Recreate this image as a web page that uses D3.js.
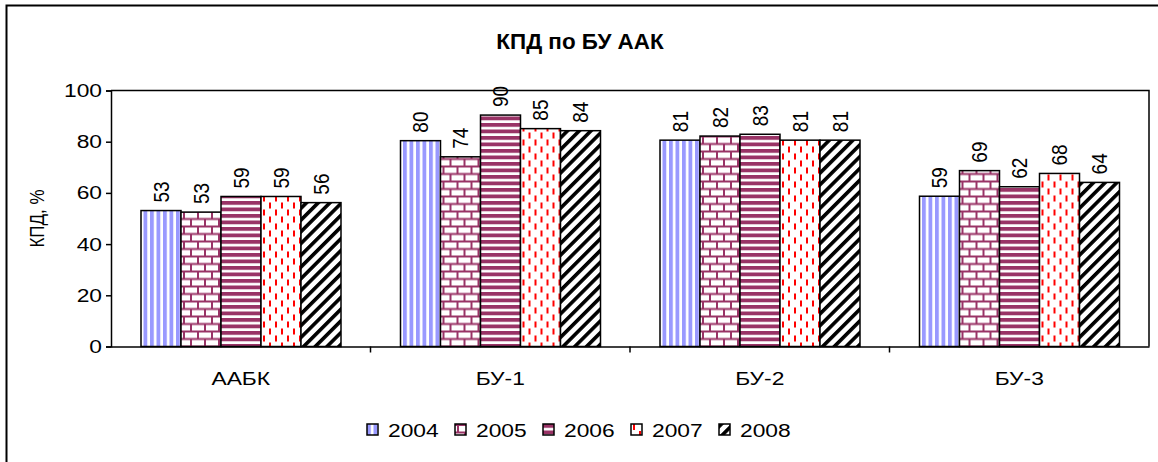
<!DOCTYPE html>
<html>
<head>
<meta charset="utf-8">
<script src="https://cdn.jsdelivr.net/npm/d3@7"></script>
<style>
  body { margin: 0; background: #fff; }
  text { font-family: Arial, "Liberation Sans", sans-serif; fill: #000; }
</style>
</head>
<body>
<div id="chart"></div>
<script>
// data
var categories = ["ААБК", "БУ-1", "БУ-2", "БУ-3"];
var years = ["2004", "2005", "2006", "2007", "2008"];
var v2004 = [53.1, 80.4, 80.6, 58.7];
var v2005 = [52.5, 74.1, 82.2, 68.7];
var v2006 = [58.6, 90.4, 82.9, 62.4];
var v2007 = [58.6, 85.1, 80.6, 67.6];
var v2008 = [56.2, 84.3, 80.6, 64.1];
var yTicks = [0, 20, 40, 60, 80, 100];

var series = [v2004, v2005, v2006, v2007, v2008];

var svgWidth = 1158;
var svgHeight = 462;
var margin = { top: 90.5, left: 111, right: 9, bottom: 115.5 };
var width = svgWidth - margin.left - margin.right;
var height = svgHeight - margin.top - margin.bottom;

// the original text looks a little wider than plain Arial
var stretch = 1.2;

var svg = d3.select("#chart").append("svg")
    .attr("width", svgWidth)
    .attr("height", svgHeight);

// patterns for fills
var defs = svg.append("defs");

var p = defs.append("pattern").attr("id", "p2004")
    .attr("patternUnits", "userSpaceOnUse").attr("width", 6.5).attr("height", 6);
p.append("rect").attr("width", 6.5).attr("height", 6).attr("fill", "#fff");
p.append("rect").attr("x", 0).attr("width", 3.8).attr("height", 6).attr("fill", "#9999ff");

p = defs.append("pattern").attr("id", "p2005")
    .attr("patternUnits", "userSpaceOnUse").attr("width", 14).attr("height", 15);
p.append("rect").attr("width", 14).attr("height", 15).attr("fill", "#fff");
p.append("path")
    .attr("d", "M0,1 H14 M0,8.5 H14 M3,1 V8.5 M10,8.5 V15")
    .attr("stroke", "#993366").attr("stroke-width", 2).attr("fill", "none");

p = defs.append("pattern").attr("id", "p2006")
    .attr("patternUnits", "userSpaceOnUse").attr("width", 6).attr("height", 6.5);
p.append("rect").attr("width", 6).attr("height", 6.5).attr("fill", "#fff");
p.append("rect").attr("y", 0).attr("width", 6).attr("height", 3.8).attr("fill", "#993366");

p = defs.append("pattern").attr("id", "p2007")
    .attr("patternUnits", "userSpaceOnUse").attr("width", 12).attr("height", 14);
p.append("rect").attr("width", 12).attr("height", 14).attr("fill", "#fff");
p.append("path")
    .attr("d", "M3,0 V6 M9,7 V13")
    .attr("stroke", "#ff0000").attr("stroke-width", 2).attr("fill", "none");

p = defs.append("pattern").attr("id", "p2008")
    .attr("patternUnits", "userSpaceOnUse").attr("width", 8.3).attr("height", 8.3)
    .attr("patternTransform", "rotate(45)");
p.append("rect").attr("width", 8.3).attr("height", 8.3).attr("fill", "#fff");
p.append("rect").attr("width", 3.6).attr("height", 8.3).attr("fill", "#000");

// outer chart frame
svg.append("rect")
    .attr("x", 6.5).attr("y", 5.5)
    .attr("width", 1170).attr("height", 480)
    .attr("fill", "none").attr("stroke", "#000").attr("stroke-width", 2);

// title
svg.append("text")
    .attr("transform", `translate(580, 49) scale(${stretch * 0.85}, 1)`)
    .attr("text-anchor", "middle")
    .style("font-size", "22px").style("font-weight", "bold")
    .text("КПД по БУ ААК");

var chartGroup = svg.append("g")
    .attr("transform", `translate(${margin.left}, ${margin.top})`);

// scales
var x0 = d3.scaleBand().domain(categories).range([0, width]);
var x1 = d3.scaleBand().domain(years).range([30, 230]);
var y = d3.scaleLinear().domain([0, 100]).range([height, 0]);

// plot area border (top and right)
chartGroup.append("path")
    .attr("d", `M0,0 H${width} V${height}`)
    .attr("fill", "none").attr("stroke", "#000").attr("stroke-width", 1.5);

// bars
var groups = chartGroup.selectAll(".cat")
    .data(categories)
    .enter()
    .append("g")
    .attr("transform", d => `translate(${x0(d)}, 0)`);

groups.selectAll("rect")
    .data((c, i) => years.map((yr, j) => ({ year: yr, value: series[j][i] })))
    .enter()
    .append("rect")
    .attr("x", d => x1(d.year))
    .attr("y", d => y(d.value))
    .attr("width", x1.bandwidth())
    .attr("height", d => height - y(d.value))
    .attr("fill", d => `url(#p${d.year})`)
    .attr("stroke", "#000")
    .attr("stroke-width", 1.5);

// value labels, rotated
groups.selectAll(".lbl")
    .data((c, i) => years.map((yr, j) => ({ year: yr, value: series[j][i] })))
    .enter()
    .append("text")
    .attr("transform", d => `translate(${x1(d.year) + x1.bandwidth() / 2}, ${y(d.value) - 8}) scale(${stretch}, 1) rotate(-90)`)
    .attr("dy", "0.35em")
    .style("font-size", "19px")
    .text(d => d3.format(".0f")(d.value));

// y axis
var leftAxis = d3.axisLeft(y).tickValues(yTicks).tickSize(5).tickPadding(4);
var yAxis = chartGroup.append("g").call(leftAxis);
yAxis.select(".domain").attr("stroke-width", 1.5);
yAxis.selectAll("line").attr("stroke-width", 1.5);
yAxis.selectAll("text")
    .attr("x", 0)
    .attr("transform", `translate(-9, 0) scale(${stretch}, 1)`)
    .style("font-size", "19px").attr("font-family", null);

// x axis
var bottomAxis = d3.axisBottom(x0).tickSize(0).tickPadding(25);
var xAxis = chartGroup.append("g")
    .attr("transform", `translate(0, ${height})`)
    .call(bottomAxis);
xAxis.select(".domain").attr("stroke-width", 1.5);
xAxis.selectAll("text")
    .attr("transform", `scale(${stretch}, 1)`)
    .style("font-size", "19px").attr("font-family", null);
xAxis.selectAll(".sep")
    .data(categories.slice(1))
    .enter()
    .append("line")
    .attr("x1", d => x0(d)).attr("x2", d => x0(d))
    .attr("y1", 0).attr("y2", 6)
    .attr("stroke", "#000").attr("stroke-width", 1.5);

// y axis title
chartGroup.append("text")
    .attr("transform", `translate(-67, ${height / 2}) scale(${stretch}, 1) rotate(-90)`)
    .attr("text-anchor", "middle")
    .style("font-size", "17px")
    .text("КПД, %");

// legend
var legend = svg.append("g").attr("transform", "translate(367, 424)");
var items = legend.selectAll("g")
    .data(years)
    .enter()
    .append("g")
    .attr("transform", (d, i) => `translate(${i * 88}, 0)`);
items.append("rect")
    .attr("width", 11).attr("height", 11)
    .attr("fill", d => `url(#p${d})`)
    .attr("stroke", "#000").attr("stroke-width", 1.5);
items.append("text")
    .attr("transform", `translate(21, 12.5) scale(${stretch}, 1)`)
    .style("font-size", "19px")
    .text(d => d);
</script>
</body>
</html>
